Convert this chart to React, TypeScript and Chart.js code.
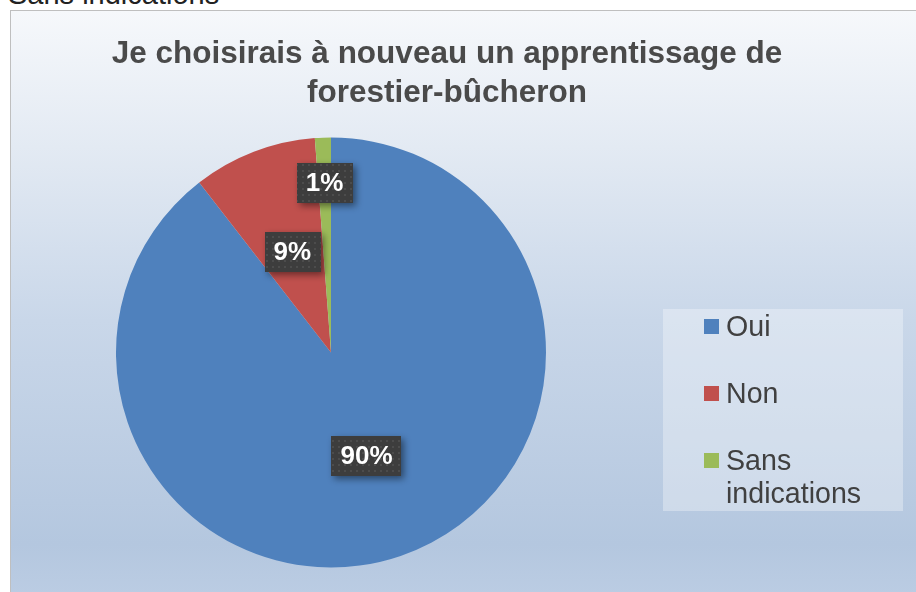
import React, { useEffect, useRef } from "react";
import { Chart, registerables } from "chart.js";

Chart.register(...registerables);

const TITLE_LINES = ["Je choisirais à nouveau un apprentissage de", "forestier-bûcheron"];
const CATEGORIES = ["Oui", "Non", "Sans indications"];
const VALUES = [89.5, 9.3, 1.2];
const VALUE_LABELS = ["90%", "9%", "1%"];
const COLORS = ["#4f81bd", "#c0504d", "#9bbb59"];
const LABEL_RADIUS = [0.51, 0.5, 0.79];
const FONT = "'Liberation Sans', Arial, sans-serif";

function makePattern(ctx: CanvasRenderingContext2D) {
  const c = document.createElement("canvas");
  c.width = 6;
  c.height = 6;
  const p = c.getContext("2d")!;
  p.fillStyle = "#3d3d3d";
  p.fillRect(0, 0, 6, 6);
  p.fillStyle = "#4c4c4c";
  p.fillRect(2, 2, 2, 2);
  return ctx.createPattern(c, "repeat");
}

const labelPlugin = {
  id: "valueBoxes",
  afterDatasetsDraw(chart: any) {
    const ctx: CanvasRenderingContext2D = chart.ctx;
    const meta = chart.getDatasetMeta(0);
    const pattern = makePattern(ctx);
    meta.data.forEach((arc: any, i: number) => {
      const { x, y, startAngle, endAngle, outerRadius } = arc.getProps(
        ["x", "y", "startAngle", "endAngle", "outerRadius"],
        true
      );
      const mid = (startAngle + endAngle) / 2;
      const r = outerRadius * LABEL_RADIUS[i];
      const cx = x + Math.cos(mid) * r;
      const cy = y + Math.sin(mid) * r;
      const text = VALUE_LABELS[i];
      ctx.save();
      ctx.font = `bold 26px ${FONT}`;
      const w = ctx.measureText(text).width + 18;
      const h = 40;
      ctx.shadowColor = "rgba(0,0,0,0.45)";
      ctx.shadowBlur = 7;
      ctx.shadowOffsetX = 3;
      ctx.shadowOffsetY = 3;
      ctx.fillStyle = pattern || "#3d3d3d";
      ctx.fillRect(Math.round(cx - w / 2), Math.round(cy - h / 2), Math.round(w), h);
      ctx.shadowColor = "transparent";
      ctx.fillStyle = "#ffffff";
      ctx.textAlign = "center";
      ctx.textBaseline = "middle";
      ctx.fillText(text, cx, cy + 1);
      ctx.restore();
    });
  },
};

export default function App() {
  const ref = useRef<HTMLCanvasElement>(null);
  useEffect(() => {
    if (!ref.current) return;
    const chart = new Chart(ref.current, {
      type: "pie",
      data: {
        labels: CATEGORIES,
        datasets: [
          {
            data: VALUES,
            backgroundColor: COLORS,
            borderWidth: 0,
          },
        ],
      },
      options: {
        animation: false,
        responsive: false,
        devicePixelRatio: 1,
        layout: { padding: { left: 116, right: 370, top: 137, bottom: 24 } },
        plugins: {
          legend: { display: false },
          title: { display: false },
          tooltip: { enabled: false },
        },
      },
      plugins: [labelPlugin],
    });
    return () => chart.destroy();
  }, []);

  return (
    <div
      style={{
        position: "absolute",
        left: 0,
        top: 0,
        width: 916,
        height: 592,
        overflow: "hidden",
        fontFamily: FONT,
        background: "#ffffff",
      }}
    >
      <div
        style={{
          position: "absolute",
          left: 10,
          top: 10,
          width: 930,
          height: 620,
          border: "1px solid #bfbfbf",
          background:
            "linear-gradient(to bottom, #f6f8fb 0%, #e3eaf3 22%, #c9d7e9 50%, #b4c7df 86%, #c0d0e6 100%)",
        }}
      />
      <div
        style={{
          position: "absolute",
          left: 8,
          top: -22,
          fontSize: 29,
          lineHeight: "32px",
          color: "#222222",
          whiteSpace: "nowrap",
        }}
      >
        Sans indications
      </div>
      <canvas
        ref={ref}
        width={916}
        height={592}
        style={{ position: "absolute", left: 0, top: 0, width: 916, height: 592 }}
      />
      <div
        style={{
          position: "absolute",
          left: 0,
          top: 33,
          width: 894,
          textAlign: "center",
          fontSize: 31.5,
          fontWeight: "bold",
          lineHeight: "39px",
          color: "#4a4a4a",
          whiteSpace: "nowrap",
        }}
      >
        {TITLE_LINES.map((t, i) => (
          <div key={i}>{t}</div>
        ))}
      </div>
      <div
        style={{
          position: "absolute",
          left: 663,
          top: 309,
          width: 240,
          height: 202,
          background: "rgba(255,255,255,0.32)",
        }}
      >
        {CATEGORIES.map((c, i) => (
          <div
            key={c}
            style={{
              position: "absolute",
              left: 0,
              top: 1 + i * 67,
              width: 240,
            }}
          >
            <div
              style={{
                position: "absolute",
                left: 41,
                top: 9,
                width: 15,
                height: 15,
                background: COLORS[i],
              }}
            />
            <div
              style={{
                position: "absolute",
                left: 63,
                top: 0,
                width: 172,
                fontSize: 28.6,
                lineHeight: "33px",
                color: "#404040",
              }}
            >
              {c}
            </div>
          </div>
        ))}
      </div>
    </div>
  );
}
